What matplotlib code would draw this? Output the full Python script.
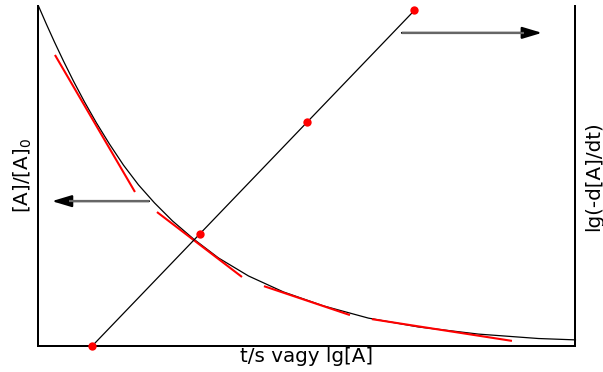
import matplotlib
matplotlib.use("Agg")
import matplotlib.pyplot as plt

plt.rcParams['font.family'] = ['DejaVu Sans']

# Decay curve [A]/[A]0 versus t
curve_t = [0.0, 0.149, 0.298, 0.466, 0.652, 0.857, 1.080, 1.322, 1.583, 1.862, 2.160,
           2.495, 2.886, 3.352, 3.911, 4.562, 5.307, 6.145, 7.076, 8.194, 9.311, 10.0]
curve_c = [1.0, 0.946, 0.894, 0.838, 0.779, 0.718, 0.656, 0.594, 0.532, 0.474, 0.421,
           0.368, 0.315, 0.259, 0.206, 0.159, 0.118, 0.082, 0.056, 0.035, 0.022, 0.018]

# Tangent segments (start t, start c, end t, end c)
tangent_t0 = [0.307, 2.207, 4.199, 6.210]
tangent_c0 = [0.856, 0.394, 0.176, 0.079]
tangent_t1 = [1.797, 3.790, 5.801, 8.818]
tangent_c1 = [0.453, 0.203, 0.091, 0.015]

# lg(-d[A]/dt) versus lg[A]
lgA = [1, 3, 5, 7]
lgrate = [0, 1, 2, 3]

xlabel = "t/s vagy lg[A]"
ylabel_left = "[A]/[A]$_0$"
ylabel_right = "lg(-d[A]/dt)"

fig = plt.figure(figsize=(6.03, 3.72), dpi=100)
ax = fig.add_axes([0.0638, 0.0699, 0.8905, 0.914])
ax.set_xlim(0, 10)
ax.set_ylim(0, 1)
ax.set_xticks([])
ax.set_yticks([])
ax.spines['top'].set_visible(False)
for s in ['left', 'bottom', 'right']:
    ax.spines[s].set_linewidth(1.4)
    ax.spines[s].set_color('black')

ax.plot(curve_t, curve_c, color='black', lw=0.9, clip_on=False, zorder=2,
        solid_joinstyle='round')
for t0, c0, t1, c1 in zip(tangent_t0, tangent_c0, tangent_t1, tangent_c1):
    ax.plot([t0, t1], [c0, c1], color='red', lw=1.5, solid_capstyle='butt', zorder=3)

ax2 = ax.twinx()
ax2.set_ylim(0, 3.04)
ax2.set_yticks([])
ax2.spines['top'].set_visible(False)
for s in ['left', 'bottom', 'right']:
    ax2.spines[s].set_linewidth(1.4)
    ax2.spines[s].set_color('black')
ax2.plot(lgA, lgrate, color='black', lw=0.9, zorder=2)
ax2.plot(lgA, lgrate, 'o', color='red', ms=6, mec='none', clip_on=False, zorder=4)

# Arrows
def arrow(a, start, tip):
    a.annotate('', xy=tip, xytext=start, xycoords='axes fraction', textcoords='axes fraction',
               arrowprops=dict(arrowstyle='-|>,head_length=0.6,head_width=0.18',
                               mutation_scale=20, color='black', lw=1.5,
                               shrinkA=0, shrinkB=0), zorder=5)

arrow(ax, (0.2058, 0.426), (0.0251, 0.426))
ax.plot([0.2058, 0.0560], [0.426, 0.426], transform=ax.transAxes, color='#666666', lw=1.6, zorder=6,
        solid_capstyle='butt')
arrow(ax, (0.6769, 0.921), (0.9376, 0.921))
ax.plot([0.6769, 0.9040], [0.921, 0.921], transform=ax.transAxes, color='#666666', lw=1.6, zorder=6,
        solid_capstyle='butt')

ax.set_xlabel(xlabel, fontsize=14.3, labelpad=1)
ax.set_ylabel(ylabel_left, fontsize=14.3, labelpad=3)
ax2.set_ylabel(ylabel_right, fontsize=14.3, labelpad=6, rotation=90)

fig.savefig('out.png', dpi=100)
